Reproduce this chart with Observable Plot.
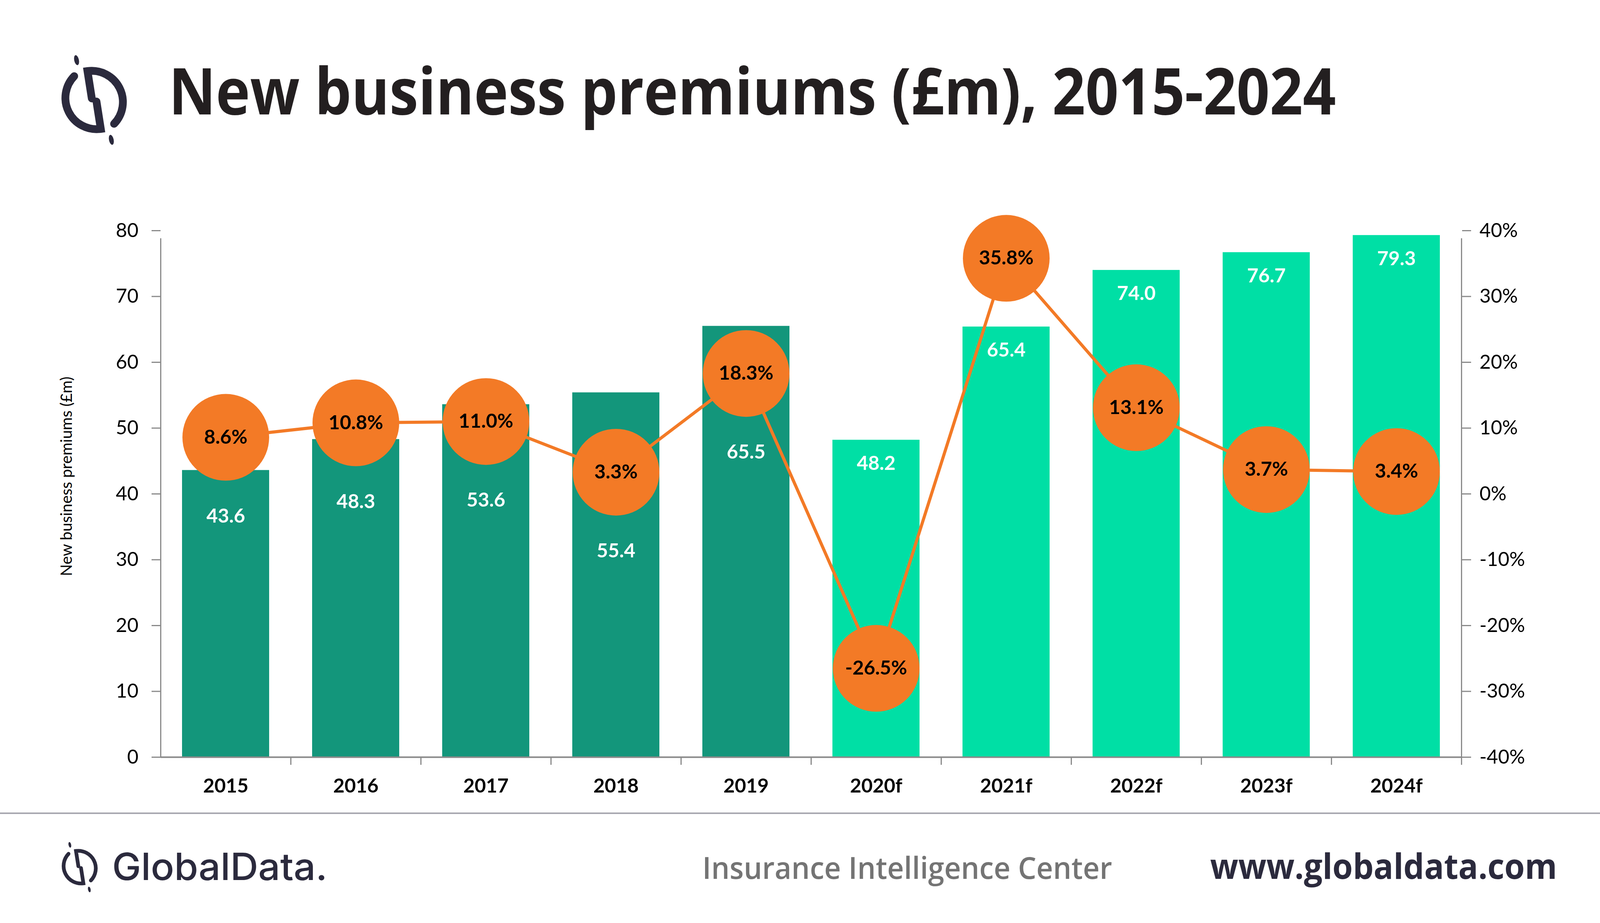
<!DOCTYPE html>
<html><head><meta charset="utf-8">
<script src="https://cdn.jsdelivr.net/npm/d3@7"></script>
<script src="https://cdn.jsdelivr.net/npm/@observablehq/plot@0.6"></script>
<style>
html,body{margin:0;padding:0;background:#fff;}
body{width:4134px;height:2363px;overflow:hidden;font-family:Lato,sans-serif;}
#header,#footer{display:block;}
#chart svg{display:block;}
</style></head><body>
<svg id="header" width="4134" height="430"></svg>
<div id="chart"></div>
<svg id="footer" width="4134" height="283"></svg>
<script>
// ---- data ----
const years = ["2015","2016","2017","2018","2019","2020f","2021f","2022f","2023f","2024f"];
const premiums = [43.6,48.3,53.6,55.4,65.5,48.2,65.4,74.0,76.7,79.3];
const growth = [8.6,10.8,11.0,3.3,18.3,-26.5,35.8,13.1,3.7,3.4];
const forecast = [false,false,false,false,false,true,true,true,true,true];
const yTicks = [0,10,20,30,40,50,60,70,80];
const pctTicks = [-40,-30,-20,-10,0,10,20,30,40];
const title = "New business premiums (£m), 2015-2024";
const yTitle = "New business premiums (£m)";

// ---- style ----
const dark = "#13967B", light = "#00DFA5", orange = "#F37A26", navy = "#2B2A3D", axisGray = "#898989";
const W = 4134, H = 1650, mL = 411, mR = 392, mT = 160, mB = 142;
const step = (W - mL - mR) / years.length;
const shift = 40; // right axis (-40%..40%) shares the left scale (0..80)

const data = years.map((year, i) => ({year, premium: premiums[i], growth: growth[i], forecast: forecast[i]}));
const circleY = d => d.growth + shift;
// value label sits near the top of the bar, or just below the growth bubble when they would collide
const labelY = d => {
  const def = d.premium - 3.6, c = circleY(d);
  return Math.abs(c - def) < 9.5 ? c - 12 : def;
};

// ---- header ----
function logo(g, cx, cy, s, sw) {
  const grp = g.append("g").attr("transform", `translate(${cx},${cy}) scale(${s})`)
    .attr("fill", "none").attr("stroke", navy).attr("stroke-width", sw).attr("stroke-linecap", "round");
  grp.append("path").attr("d", "M -6,-4 L -17,-74 A 80 80 0 0 1 51,61");
  grp.append("path").attr("d", "M 6,4 L 17,74 A 80 80 0 0 1 -51,-61");
  grp.append("ellipse").attr("cx", -45).attr("cy", -102).attr("rx", 6).attr("ry", 13).attr("transform", "rotate(-12,-45,-102)").attr("fill", navy).attr("stroke", "none");
  grp.append("ellipse").attr("cx", 44).attr("cy", 102).attr("rx", 6).attr("ry", 13).attr("transform", "rotate(-12,44,102)").attr("fill", navy).attr("stroke", "none");
}
const header = d3.select("#header");
logo(header, 241, 256, 1, 20);
header.append("text").attr("x", 432).attr("y", 293)
  .attr("font-family", "'Open Sans', sans-serif").attr("font-weight", 700).attr("font-size", 166)
  .attr("fill", "#231F20").attr("textLength", 2988).attr("lengthAdjust", "spacingAndGlyphs").text(title);

// ---- chart ----
const plot = Plot.plot({
  width: W, height: H,
  marginLeft: mL, marginRight: mR, marginTop: mT, marginBottom: mB,
  style: {fontFamily: "Lato, sans-serif", background: "white", color: "black", overflow: "visible"},
  x: {domain: years, paddingInner: 0.33, paddingOuter: 0.165, label: null},
  y: {domain: [0, 80], label: null},
  color: {type: "identity"},
  marks: [
    Plot.barY(data, {x: "year", y: "premium", fill: d => d.forecast ? light : dark}),
    Plot.ruleY([0], {stroke: axisGray, strokeWidth: 4}),
    Plot.ruleX([years[0]], {x: d => d, dx: -step / 2, y1: 0, y2: 80, insetBottom: -20, stroke: axisGray, strokeWidth: 3}),
    Plot.ruleX([years[years.length - 1]], {x: d => d, dx: step / 2, y1: 0, y2: 80, insetBottom: -20, stroke: axisGray, strokeWidth: 3}),
    Plot.text(data, {x: "year", y: labelY, text: d => d.premium.toFixed(1), fill: "white", fontWeight: "bold", fontSize: 50}),
    Plot.line(data, {x: "year", y: circleY, stroke: orange, strokeWidth: 8}),
    Plot.dot(data, {x: "year", y: circleY, r: 111, fill: orange, stroke: "none"}),
    Plot.text(data, {x: "year", y: circleY, text: d => d.growth.toFixed(1) + "%", fill: "black", fontWeight: "bold", fontSize: 50}),
    Plot.axisY({anchor: "left", ticks: yTicks, tickSize: 23, tickPadding: 34, stroke: axisGray, strokeWidth: 3, fontSize: 50, label: null}),
    Plot.axisY({anchor: "right", ticks: pctTicks.map(p => p + shift), tickFormat: d => `${d - shift}%`, tickSize: 23, tickPadding: 22, stroke: axisGray, strokeWidth: 3, fontSize: 50, label: null}),
    Plot.axisX({anchor: "bottom", tickSize: 20, tickFormat: () => "", dx: step / 2, stroke: axisGray, strokeWidth: 3, label: null}),
    Plot.axisX({anchor: "bottom", tickSize: 0, tickPadding: 55, fontWeight: "bold", fontSize: 50, label: null}),
    Plot.text([yTitle], {text: d => d, frameAnchor: "left", textAnchor: "middle", rotate: -90, dx: -240, dy: -45, fontSize: 40, fill: "black"})
  ]
});
document.getElementById("chart").appendChild(plot);

// ---- footer ----
const footer = d3.select("#footer");
footer.append("line").attr("x1", 0).attr("x2", W).attr("y1", 2).attr("y2", 2).attr("stroke", "#A8A8B0").attr("stroke-width", 4);
logo(footer, 204, 140, 0.56, 17);
footer.append("text").attr("x", 287).attr("y", 173)
  .attr("font-family", "Inter, sans-serif").attr("font-weight", 500).attr("font-size", 96)
  .attr("fill", navy).attr("textLength", 551).attr("lengthAdjust", "spacingAndGlyphs").text("GlobalData.");
footer.append("text").attr("x", 1798).attr("y", 170)
  .attr("font-family", "'Open Sans', sans-serif").attr("font-weight", 600).attr("font-size", 78)
  .attr("fill", "#747474").attr("textLength", 1049).attr("lengthAdjust", "spacingAndGlyphs").text("Insurance Intelligence Center");
footer.append("text").attr("x", 3098).attr("y", 170)
  .attr("font-family", "'Open Sans', sans-serif").attr("font-weight", 700).attr("font-size", 90)
  .attr("fill", navy).attr("textLength", 888).attr("lengthAdjust", "spacingAndGlyphs").text("www.globaldata.com");
</script>
</body></html>
